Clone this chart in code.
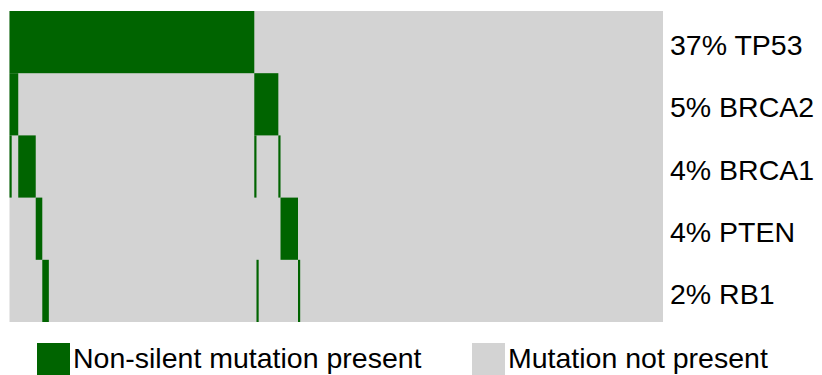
<!DOCTYPE html>
<html>
<head>
<meta charset="utf-8">
<script src="https://cdn.jsdelivr.net/npm/d3@7"></script>
<style>
  body { margin: 0; background: #fff; }
  text { font-family: Arial, "Liberation Sans", sans-serif; fill: #000; }
</style>
</head>
<body>
<div id="chart"></div>
<script>
// genes (rows) and their labels
const genes = ['TP53', 'BRCA2', 'BRCA1', 'PTEN', 'RB1'];
const geneLabels = ['37% TP53', '5% BRCA2', '4% BRCA1', '4% PTEN', '2% RB1'];

// alteration patterns in sorted sample order, with the number of samples for each
const patternGenes = [
  ['TP53', 'BRCA2', 'BRCA1'],
  ['TP53', 'BRCA2'],
  ['TP53', 'BRCA1'],
  ['TP53', 'PTEN'],
  ['TP53', 'RB1'],
  ['TP53'],
  ['BRCA2', 'BRCA1'],
  ['BRCA2', 'RB1'],
  ['BRCA2'],
  ['BRCA1'],
  ['PTEN'],
  ['RB1'],
  [],
];
const patternCounts = [1, 3, 8, 3, 3, 94, 1, 1, 9, 1, 8, 1, 166];

const legendLabels = ['Non-silent mutation present', 'Mutation not present'];

const width = 822;
const height = 375;
const margin = { t: 11, r: 159, b: 53, l: 9.5 };
const colMut = '#006400';
const colNone = '#d3d3d3';

// expand patterns into samples
const samples = [];
patternGenes.forEach((g, i) => {
  for (let k = 0; k < patternCounts[i]; k++) samples.push(g);
});

const x = d3
  .scaleBand()
  .domain(d3.range(samples.length))
  .range([margin.l, width - margin.r])
  .padding(0);

const y = d3
  .scaleBand()
  .domain(genes)
  .range([margin.t, height - margin.b])
  .padding(0);

const svg = d3
  .select('#chart')
  .append('svg')
  .attr('width', width)
  .attr('height', height);

// grey background for the whole grid
svg
  .append('rect')
  .attr('x', x(0))
  .attr('y', y(genes[0]))
  .attr('width', x.bandwidth() * samples.length)
  .attr('height', y.bandwidth() * genes.length)
  .attr('fill', colNone);

// merge consecutive mutated samples into runs per gene
const runs = [];
genes.forEach((gene) => {
  let start = null;
  samples.forEach((s, i) => {
    const hit = s.includes(gene);
    if (hit && start === null) start = i;
    if ((!hit || i === samples.length - 1) && start !== null) {
      const end = hit ? i : i - 1;
      runs.push({ gene, start, end });
      start = null;
    }
  });
});

svg
  .selectAll('.run')
  .data(runs)
  .join('rect')
  .attr('class', 'run')
  .attr('x', (d) => x(d.start))
  .attr('y', (d) => y(d.gene))
  .attr('width', (d) => x(d.end) + x.bandwidth() - x(d.start))
  .attr('height', y.bandwidth())
  .attr('fill', colMut);

// row labels
svg
  .selectAll('.lab')
  .data(genes)
  .join('text')
  .attr('class', 'lab')
  .attr('x', 670)
  .attr('y', (d) => y(d) + y.bandwidth() / 2 + 13)
  .attr('font-size', '28.5px')
  .text((d, i) => geneLabels[i]);

// legend
const legend = svg.append('g');
const legX = [37, 472];
const legCol = [colMut, colNone];
legendLabels.forEach((l, i) => {
  legend
    .append('rect')
    .attr('x', legX[i])
    .attr('y', 343)
    .attr('width', 33)
    .attr('height', 33)
    .attr('fill', legCol[i]);
  legend
    .append('text')
    .attr('x', legX[i] + 36)
    .attr('y', 368)
    .attr('font-size', '28.5px')
    .text(l);
});
</script>
</body>
</html>
